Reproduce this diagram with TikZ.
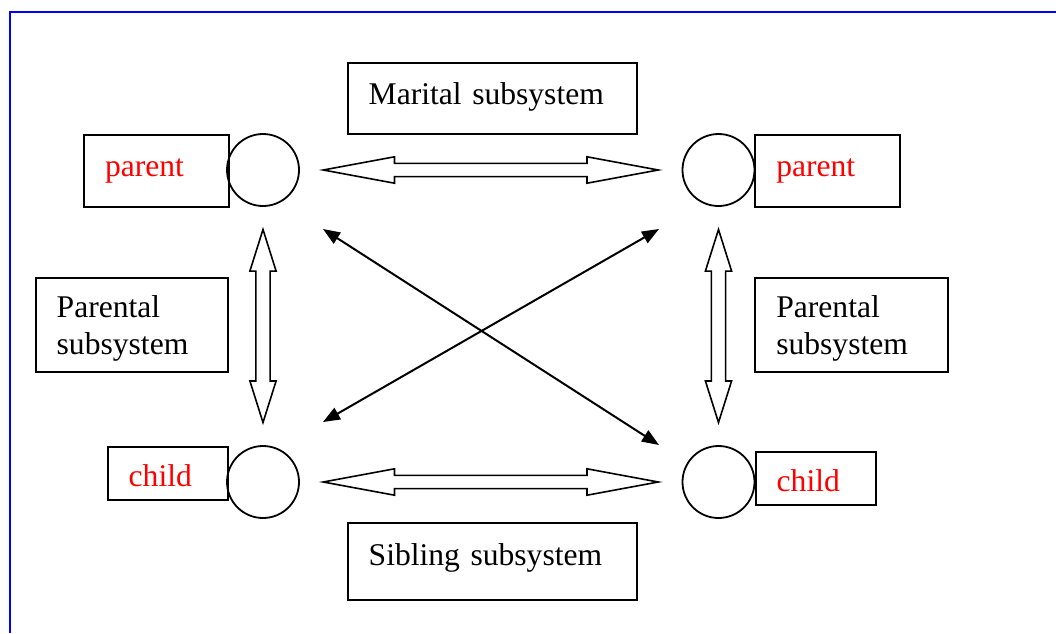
\documentclass[tikz,border=0pt]{standalone}
\usepackage{fontspec}
\setmainfont{Liberation Serif}
\usetikzlibrary{calc}
\usetikzlibrary{arrows.meta}
\usetikzlibrary{shapes.arrows}
\newcommand*{\boxpad  }{10.5pt}
\newcommand*{\ringsize}{36pt}
\newcommand*{\tipsize }{length=8.5pt, width=6.5pt}

\begin{document}
\begin{tikzpicture}[x=0.5pt, y=-0.5pt, font=\fontsize{15.8}{18.3}\selectfont,
        rolebox/.style   = {draw, line width=1pt, anchor=north west, inner xsep=\boxpad, inner ysep=0pt, align=left},
        kinbox/.style    = {rolebox, text=red},
        member/.style    = {draw, circle, line width=0.9pt, minimum size=\ringsize, inner sep=0pt},
        bond/.style      = {draw, double arrow, line width=0.8pt, inner xsep=0pt, inner ysep=2.9pt,
                            double arrow head extend=3.3pt, double arrow tip angle=21, minimum height=167.5pt},
        upbond/.style    = {bond, rotate=90, inner ysep=3.15pt, double arrow head extend=3pt,
                            double arrow tip angle=35, minimum height=96.5pt},
        crossbond/.style = {line width=1pt, {Triangle[\tipsize]}-{Triangle[\tipsize]}}]
    \useasboundingbox (0,0) rectangle (1056,633);
    \draw [blue, line width=1pt] (10,633) -- (10,12) -- (1056,12);
    % family members
    \node [member] (pL) at (263,170)   {};
    \node [member] (pR) at (718.5,170) {};
    \node [member] (cL) at (263,482)   {};
    \node [member] (cR) at (718.5,482) {};
    \node [kinbox, text width=51.5pt, text height=20.85pt, text depth=15.15pt] (parentL) at (83,134)      {parent};
    \node [kinbox, text width=51.5pt, text height=20.5pt,  text depth=15.5pt ] (parentR) at (754.3,134)   {parent};
    \node [kinbox, text width=39.3pt, text height=19.85pt, text depth=6.65pt ] (childL)  at (106.7,446)   {child};
    \node [kinbox, text width=39.3pt, text height=19.85pt, text depth=6.65pt ] (childR)  at (754.7,451)   {child};
    % subsystems
    \node [rolebox, text width=123.5pt, text height=20.8pt, text depth=15pt  ] (maritalbox) at (346.7,61.7)  {Marital subsystem};
    \node [rolebox, text width=123.5pt, text height=21pt,   text depth=17.5pt] (siblingbox) at (346.7,522.3) {Sibling subsystem};
    \node [rolebox, text width=75.3pt,  text height=19.7pt, text depth=27.15pt] (parentalL) at (34.7,277.3)  {Parental\\subsystem};
    \node [rolebox, text width=75.35pt, text height=19.7pt, text depth=27.15pt] (parentalR) at (754.3,277.3) {Parental\\subsystem};
    % hollow arrows
    \node [bond]   (couple)   at ($(pL)!0.5!(pR)$) {};
    \node [bond]   (siblings) at ($(cL)!0.5!(cR)$) {};
    \node [upbond] (upL)      at ($(pL)!0.5!(cL)$) {};
    \node [upbond] (upR)      at ($(pR)!0.5!(cR)$) {};
    % cross arrows
    \coordinate (xTL) at ($(pL)+(60,59)$);
    \coordinate (xTR) at ($(pR)+(-59.5,59)$);
    \coordinate (xBL) at ($(cL)+(60,-60)$);
    \coordinate (xBR) at ($(cR)+(-59.5,-37)$);
    \draw [crossbond] (xTL) -- (xBR);
    \draw [crossbond] (xTR) -- (xBL);
\end{tikzpicture}
\end{document}
